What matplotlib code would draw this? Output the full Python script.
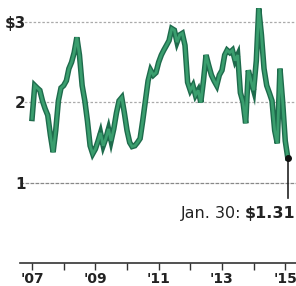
import matplotlib.pyplot as plt
import pandas as pd

# monthly average price, Jan 2007 - Jan 2015, plus the last reading on Jan. 30
months = pd.date_range('2007-01-01', '2015-01-01', freq='MS')
price = [1.80, 2.21, 2.18, 2.15, 2.02, 1.92, 1.84, 1.59, 1.38, 1.65, 2.02, 2.18,
         2.21, 2.27, 2.42, 2.50, 2.62, 2.81, 2.59, 2.21, 2.02, 1.77, 1.46, 1.36,
         1.42, 1.52, 1.62, 1.46, 1.55, 1.67, 1.52, 1.67, 1.87, 2.02, 2.06, 1.87,
         1.65, 1.50, 1.45, 1.46, 1.50, 1.55, 1.77, 2.02, 2.27, 2.40, 2.34, 2.37,
         2.50, 2.59, 2.65, 2.71, 2.77, 2.92, 2.90, 2.75, 2.84, 2.86, 2.71, 2.25,
         2.15, 2.21, 2.09, 2.15, 2.00, 2.27, 2.59, 2.46, 2.34, 2.27, 2.21, 2.34,
         2.40, 2.59, 2.65, 2.62, 2.65, 2.52, 2.59, 2.12, 2.00, 1.74, 2.40, 2.27,
         2.15, 2.52, 3.17, 2.84, 2.42, 2.21, 2.12, 2.02, 1.65, 1.49, 2.42, 2.02,
         1.52]
last_date = pd.Timestamp('2015-01-30')
last_price = 1.31

dates = list(months) + [last_date]
values = price + [last_price]

year_ticks = pd.date_range('2007-01-01', '2015-01-01', freq='YS')
year_labels = ["'07", '', "'09", '', "'11", '', "'13", '', "'15"]
y_ticks = [1, 2, 3]
y_labels = ['1', '2', '$3']

fig = plt.figure(figsize=(2.96, 2.86), dpi=100)
ax = fig.add_axes([0.0676, 0.0804, 0.9324, 0.9196])

# gridlines
for v in [2, 3]:
    ax.axhline(v, color='#aaaaaa', lw=0.9, ls=(0, (2, 1.5)), zorder=1)
ax.axhline(1, color='#888888', lw=0.9, ls=(0, (3, 1)), zorder=1)

ax.plot(dates, values, color='#1e6b4c', lw=4.0, solid_joinstyle='miter', zorder=2)
ax.plot(dates, values, color='#3a9e6e', lw=2.0, solid_joinstyle='miter', zorder=3)

# callout for the last value
ax.plot([last_date, last_date], [0.81, last_price], color='#222222', lw=1.2, zorder=4)
ax.plot([last_date], [last_price], 'o', color='#111111', ms=4, zorder=5)
t_val = ax.text(0.997, 0.56, '$1.31', ha='right', va='baseline',
                transform=ax.get_yaxis_transform(), fontsize=11.5,
                family='Liberation Sans Narrow', fontweight='bold', color='#222222')
fig.canvas.draw()
bb = t_val.get_window_extent().transformed(ax.transAxes.inverted())
ax.text(bb.x0 - 0.012, 0.56, 'Jan. 30:', ha='right', va='baseline',
        transform=ax.get_yaxis_transform(), fontsize=11.5,
        family='Liberation Sans Narrow', color='#222222')

ax.set_xlim(pd.Timestamp('2006-08-15'), pd.Timestamp('2015-05-05'))
ax.set_ylim(0, 3.275)

ax.set_xticks(year_ticks)
ax.set_xticklabels(year_labels, fontsize=10, fontweight='bold', color='#222222')
ax.tick_params(axis='x', length=5, width=1, color='#333333', pad=1.5)

ax.set_yticks(y_ticks)
ax.set_yticklabels(y_labels, fontsize=11, fontweight='bold', color='#222222')
ax.tick_params(axis='y', length=0, pad=-4)

for s in ['top', 'right', 'left']:
    ax.spines[s].set_visible(False)
ax.spines['bottom'].set_color('#333333')
ax.spines['bottom'].set_linewidth(1.2)

fig.savefig('out.png', dpi=100)
